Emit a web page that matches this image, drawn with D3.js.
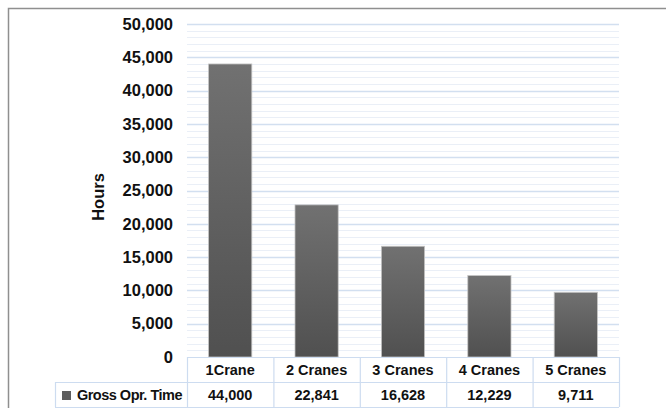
<!DOCTYPE html>
<html>
<head>
<meta charset="utf-8">
<script src="https://cdn.jsdelivr.net/npm/d3@7"></script>
<style>
  html, body { margin: 0; padding: 0; background: #fff; }
  svg text { font-family: "Liberation Sans", Arial, sans-serif; font-weight: bold; fill: #111; }
</style>
</head>
<body>
<svg id="chart" width="666" height="408"></svg>
<script>
const categories = ['1Crane', '2 Cranes', '3 Cranes', '4 Cranes', '5 Cranes']
const grossOprTime = [44000, 22841, 16628, 12229, 9711]
const tableLabels = ['44,000', '22,841', '16,628', '12,229', '9,711']
const seriesName = 'Gross Opr. Time'
const yTicks = [0, 5000, 10000, 15000, 20000, 25000, 30000, 35000, 40000, 45000, 50000]

const svg = d3.select('#chart')
const plotLeft = 187, plotRight = 619, plotTop = 24, base = 357
const rowCat = 382, rowEnd = 407, legendLeft = 55

// outer chart frame (runs off the picture to the right and bottom)
svg.append('rect')
  .attr('x', 8.5).attr('y', 8.5)
  .attr('width', 720).attr('height', 430)
  .attr('fill', 'none').attr('stroke', '#8f8f8f').attr('stroke-width', 1.5)

const defs = svg.append('defs')
const grad = defs.append('linearGradient')
  .attr('id', 'barGrad').attr('x1', 0).attr('y1', 0).attr('x2', 0).attr('y2', 1)
grad.append('stop').attr('offset', '0%').attr('stop-color', '#717171')
grad.append('stop').attr('offset', '100%').attr('stop-color', '#505050')

const x = d3.scaleBand()
  .domain(categories)
  .range([plotLeft, plotRight])
  .paddingInner(0.5)
  .paddingOuter(0.25)

const y = d3.scaleLinear()
  .domain([0, 50000])
  .range([base, plotTop])

// minor gridlines
svg.append('g')
  .selectAll('line')
  .data(d3.range(1000, 50001, 1000).filter(v => v % 5000 !== 0))
  .join('line')
  .attr('x1', plotLeft).attr('x2', plotRight)
  .attr('y1', d => Math.round(y(d)) + 0.5).attr('y2', d => Math.round(y(d)) + 0.5)
  .attr('stroke', '#eaeff7').attr('stroke-width', 1)

// major gridlines
svg.append('g')
  .selectAll('line')
  .data(yTicks.filter(v => v > 0))
  .join('line')
  .attr('x1', plotLeft).attr('x2', plotRight)
  .attr('y1', d => Math.round(y(d)) + 0.5).attr('y2', d => Math.round(y(d)) + 0.5)
  .attr('stroke', '#d2dff0').attr('stroke-width', 1.3)

// y axis labels
const yAxis = d3.axisLeft(y)
  .tickValues(yTicks)
  .tickFormat(d3.format(','))
  .tickSize(0)
  .tickPadding(14)

const ya = svg.append('g')
  .attr('transform', `translate(${plotLeft},0)`)
  .call(yAxis)
ya.select('.domain').remove()
ya.selectAll('text')
  .attr('font-size', 16.5)
  .attr('font-family', '"Liberation Sans", Arial, sans-serif')
  .attr('font-weight', 'bold')
  .attr('fill', '#111')

svg.append('text')
  .attr('transform', `translate(104,197) rotate(-90)`)
  .attr('text-anchor', 'middle')
  .attr('font-size', 16.5)
  .text('Hours')

// bars
svg.append('g')
  .selectAll('rect')
  .data(grossOprTime)
  .join('rect')
  .attr('x', (d, i) => x(categories[i]))
  .attr('y', d => y(d))
  .attr('width', x.bandwidth())
  .attr('height', d => base - y(d))
  .attr('fill', 'url(#barGrad)')
  .attr('stroke', '#c4c4c4')
  .attr('stroke-width', 0.8)

// data table
const step = x.step()
const tbl = svg.append('g').attr('stroke', '#cddcf0').attr('stroke-width', 1.2).attr('fill', 'none')
tbl.append('line').attr('x1', plotLeft).attr('x2', plotRight).attr('y1', base + 0.5).attr('y2', base + 0.5)
tbl.append('line').attr('x1', legendLeft).attr('x2', plotRight).attr('y1', rowCat + 0.5).attr('y2', rowCat + 0.5)
tbl.append('line').attr('x1', legendLeft).attr('x2', plotRight).attr('y1', rowEnd + 0.5).attr('y2', rowEnd + 0.5)
tbl.append('line').attr('x1', legendLeft + 0.5).attr('x2', legendLeft + 0.5).attr('y1', rowCat).attr('y2', rowEnd)
tbl.selectAll('line.col')
  .data(d3.range(categories.length + 1))
  .join('line')
  .attr('class', 'col')
  .attr('x1', i => plotLeft + i * step + 0.5).attr('x2', i => plotLeft + i * step + 0.5)
  .attr('y1', base).attr('y2', rowEnd)

svg.append('g')
  .selectAll('text')
  .data(categories)
  .join('text')
  .attr('x', d => x(d) + x.bandwidth() / 2)
  .attr('y', (base + rowCat) / 2 + 5)
  .attr('text-anchor', 'middle')
  .attr('font-size', 14.5)
  .text(d => d)

svg.append('g')
  .selectAll('text')
  .data(tableLabels)
  .join('text')
  .attr('x', (d, i) => x(categories[i]) + x.bandwidth() / 2)
  .attr('y', (rowCat + rowEnd) / 2 + 5.5)
  .attr('text-anchor', 'middle')
  .attr('font-size', 14.5)
  .text(d => d)

// legend key inside the table
svg.append('rect')
  .attr('x', 62).attr('y', (rowCat + rowEnd) / 2 - 3.5)
  .attr('width', 9).attr('height', 9)
  .attr('fill', '#5e5e5e')

svg.append('text')
  .attr('x', 182)
  .attr('y', (rowCat + rowEnd) / 2 + 5.5)
  .attr('text-anchor', 'end')
  .attr('font-size', 14.5)
  .attr('letter-spacing', -0.5)
  .text(seriesName)
</script>
</body>
</html>
